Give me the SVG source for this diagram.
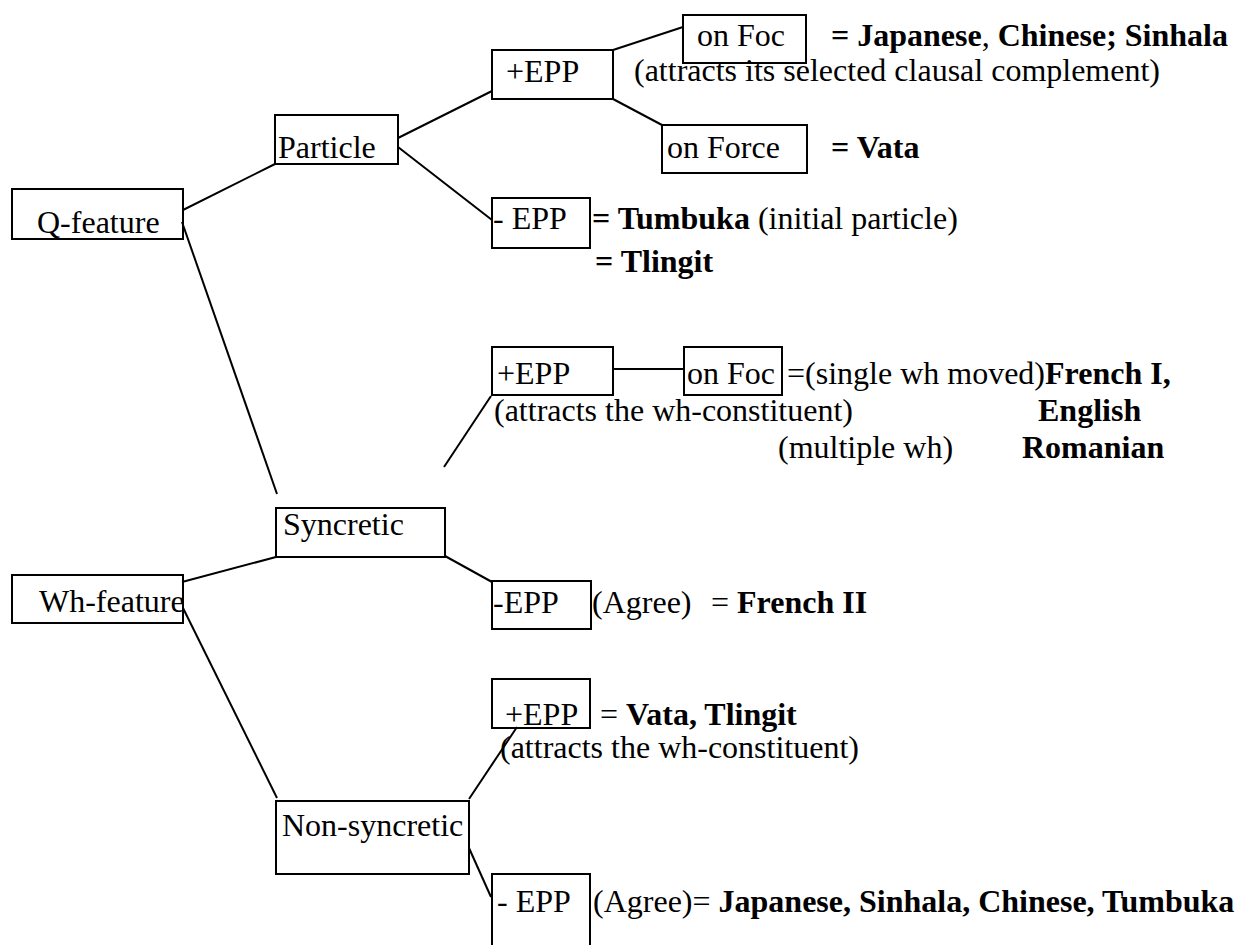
<svg xmlns="http://www.w3.org/2000/svg" width="1238" height="945" viewBox="0 0 1238 945">
<style>
text{font-family:"Liberation Serif","Times New Roman",serif;font-size:32px;fill:#000}
.b{font-weight:bold}
rect{fill:none;stroke:#000;stroke-width:2}
#connectors line{stroke:#000;stroke-width:2}
</style>
<rect x="0" y="0" width="1238" height="945" style="fill:#fff;stroke:none"/>
<g id="connectors">
<line x1="183" y1="210" x2="275" y2="164"/>
<line x1="182" y1="222" x2="277" y2="494"/>
<line x1="398" y1="138" x2="492" y2="91"/>
<line x1="398" y1="147" x2="492" y2="220"/>
<line x1="613" y1="50" x2="683" y2="27"/>
<line x1="613" y1="99" x2="662" y2="125"/>
<line x1="613" y1="369" x2="684" y2="369"/>
<line x1="444" y1="467" x2="491" y2="396"/>
<line x1="182" y1="582" x2="276" y2="557"/>
<line x1="183" y1="608" x2="277" y2="798"/>
<line x1="445" y1="556" x2="492" y2="582"/>
<line x1="469" y1="799" x2="517" y2="727"/>
<line x1="469" y1="848" x2="491" y2="897"/>
</g>
<g id="q-feature"><rect x="12" y="189" width="171" height="50"/><text x="37" y="233">Q-feature</text></g>
<g id="particle"><rect x="275" y="115" width="123" height="49"/><text x="278" y="158">Particle</text></g>
<g id="epp-plus-top"><rect x="492" y="50" width="121" height="49"/><text x="506" y="82">+EPP</text></g>
<g id="on-foc-top"><rect x="683" y="15" width="123" height="48"/><text x="697" y="46">on Foc</text></g>
<g id="on-force"><rect x="662" y="125" width="145" height="48"/><text x="667" y="158">on Force</text></g>
<g id="epp-minus-top"><rect x="492" y="198" width="98" height="50"/><text x="493" y="229">- EPP</text></g>
<g id="wh-feature"><rect x="12" y="575" width="171" height="48"/><text x="39" y="612">Wh-feature</text></g>
<g id="syncretic"><rect x="276" y="508" width="169" height="49"/><text x="283" y="535">Syncretic</text></g>
<g id="epp-plus-mid"><rect x="492" y="347" width="121" height="48"/><text x="497" y="384">+EPP</text></g>
<g id="on-foc-mid"><rect x="684" y="347" width="98" height="48"/><text x="687" y="384">on Foc</text></g>
<g id="epp-minus-mid"><rect x="492" y="581" width="99" height="48"/><text x="493" y="613">-EPP</text></g>
<g id="non-syncretic"><rect x="276" y="801" width="193" height="73"/><text x="282" y="836">Non-syncretic</text></g>
<g id="epp-plus-bot"><rect x="492" y="679" width="98" height="49"/><text x="505" y="725">+EPP</text></g>
<g id="epp-minus-bot"><rect x="492" y="874" width="98" height="80"/><text x="497" y="912">- EPP</text></g>
<g id="annotations">
<text x="831" y="46"><tspan class="b">= Japanese</tspan>, <tspan class="b">Chinese; Sinhala</tspan></text>
<text x="634" y="81">(attracts its selected clausal complement)</text>
<text x="831" y="158" class="b">= Vata</text>
<text x="592" y="229"><tspan class="b">= Tumbuka</tspan> (initial particle)</text>
<text x="595" y="272" class="b">= Tlingit</text>
<text x="787" y="384">=(single wh moved)<tspan class="b">French I,</tspan></text>
<text x="494" y="421">(attracts the wh-constituent)</text>
<text x="1038" y="421" class="b">English</text>
<text x="778" y="458">(multiple wh)</text>
<text x="1022" y="458" class="b">Romanian</text>
<text x="592" y="613">(Agree)</text>
<text x="711" y="613">=</text>
<text x="737" y="613" class="b">French II</text>
<text x="600" y="725">= <tspan class="b">Vata, Tlingit</tspan></text>
<text x="500" y="758">(attracts the wh-constituent)</text>
<text x="593" y="912">(Agree)= <tspan class="b">Japanese, Sinhala, Chinese, Tumbuka</tspan></text>
</g>
</svg>
